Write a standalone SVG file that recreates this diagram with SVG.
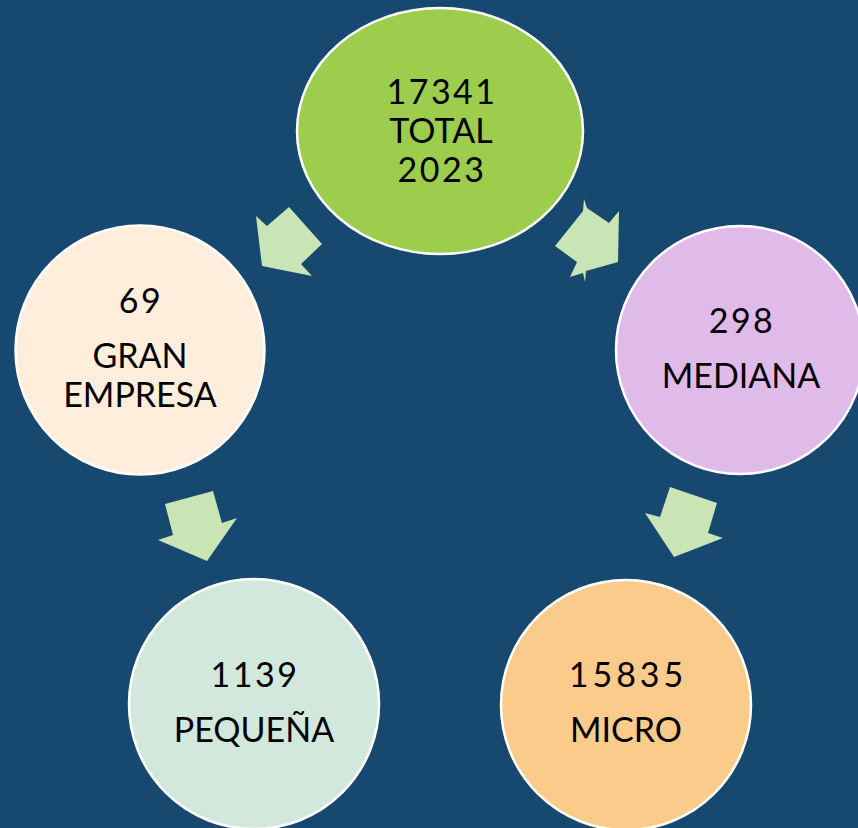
<svg xmlns="http://www.w3.org/2000/svg" width="858" height="828" viewBox="0 0 858 828">
<style>
.node{stroke:#ffffff;stroke-width:2.5}
.lbl{font-family:Lato,"Liberation Sans",sans-serif;font-size:34px;fill:#000000;text-anchor:middle}
.num{letter-spacing:2.5px}
.arrow{fill:#c9e4b5}
</style>
<rect width="858" height="828" fill="#17486f"/>
<g id="connectors">
<polygon class="arrow" points="256,216 267,226 289,207 322,244 301,264 312,276 262,266"/>
<polygon class="arrow" points="555,246 583,211 584,199 587,208 609,223 619,211 618,262 586,271 585,282 583,273 570,277 577,262"/>
<polygon class="arrow" points="165,504 213,491 222,523 237,518 207,561 158,540 173,535"/>
<polygon class="arrow" points="670,487 717,503 708,533 723,538 674,557 645,513 660,517"/>
</g>
<g id="total">
<ellipse class="node" cx="440" cy="131" rx="143" ry="123" fill="#9ccd4d"/>
<text class="lbl num" x="442" y="104">17341</text>
<text class="lbl" x="441" y="143">TOTAL</text>
<text class="lbl num" x="442" y="182">2023</text>
</g>
<g id="gran">
<circle class="node" cx="140" cy="350" r="124.5" fill="#feeedb"/>
<text class="lbl num" x="141" y="313">69</text>
<text class="lbl" x="140" y="368">GRAN</text>
<text class="lbl" x="140" y="407">EMPRESA</text>
</g>
<g id="mediana">
<circle class="node" cx="740" cy="350" r="124" fill="#e0bbea"/>
<text class="lbl num" x="742" y="333">298</text>
<text class="lbl" x="741" y="388">MEDIANA</text>
</g>
<g id="pequena">
<circle class="node" cx="254" cy="704" r="125" fill="#d2e8dc"/>
<text class="lbl num" x="255" y="687">1139</text>
<text class="lbl" x="254" y="742">PEQUEÑA</text>
</g>
<g id="micro">
<circle class="node" cx="626" cy="705" r="125" fill="#fbcb8b"/>
<text class="lbl num" x="628" y="687" style="letter-spacing:4px">15835</text>
<text class="lbl" x="626" y="742">MICRO</text>
</g>
</svg>
